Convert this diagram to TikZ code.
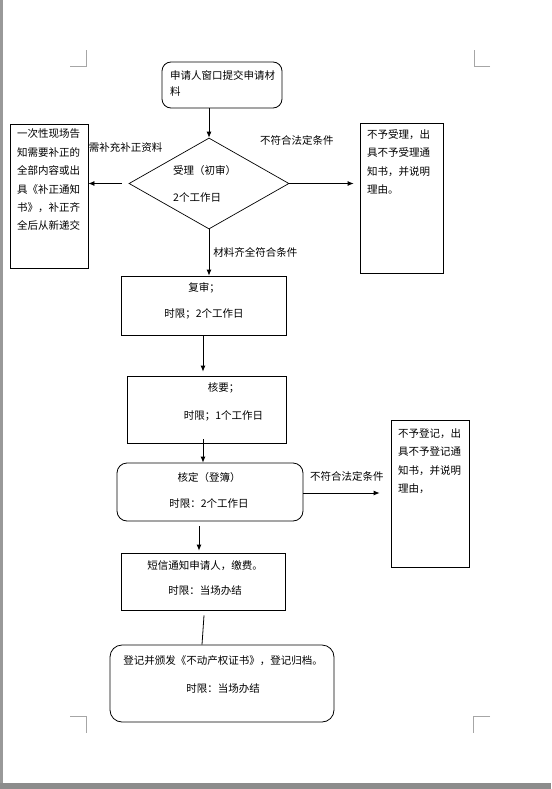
\documentclass[tikz,border=0pt]{standalone}
\usepackage{fontspec}
\setmainfont{Noto Sans CJK SC}
\usetikzlibrary{calc}
\usetikzlibrary{fit}
\usetikzlibrary{shapes.geometric}
\usetikzlibrary{arrows.meta}
\tikzstyle{flowbox}=[draw, line width=0.8pt, inner sep=0pt]
\tikzstyle{roundbox}=[flowbox, rounded corners=9pt]
\tikzstyle{txt}=[inner sep=0pt, anchor=west, align=left]
\tikzstyle{ctxt}=[inner sep=0pt, align=center]
\tikzstyle{arr}=[line width=0.8pt, -{Latex[length=6pt,width=5pt]}]
\tikzstyle{cropmark}=[draw=black!35, line width=0.8pt]
\def\flowbox[#1](#2)(#3)#4% Syntax: [style] (top left) (bottom right) name
    { \node[#1, fit={(#2) (#3)}] (#4) {}; }
\newcommand{\cjk}[1]{\fontsize{10.5}{#1}\selectfont}
\begin{document}
\begin{tikzpicture}[x=1pt, y=-1pt, font=\cjk{13}]
	\useasboundingbox (0,0) rectangle (551,789);
	% page and its shadow
	\fill[white] (0,0) rectangle (551,789);
	\fill[black!40] (0,0) rectangle (3,789);
	\fill[black!45] (0,783) rectangle (551,789);
	\draw[cropmark] (70,66) -- (86,66) -- (86,50);
	\draw[cropmark] (490,66) -- (474,66) -- (474,50);
	\draw[cropmark] (70,716) -- (86,716) -- (86,733);
	\draw[cropmark] (490,716) -- (473,716) -- (473,733);
	% boxes
	\flowbox[roundbox](162,62)(282,108){shenqing}
	\node[draw, line width=0.7pt, diamond, inner sep=0pt, minimum width=160pt, minimum height=91pt] (shouli) at (209,183.5) {};
	\flowbox[flowbox](10,124)(88,268){buzheng}
	\flowbox[flowbox](360,123)(443,273){buyu}
	\flowbox[flowbox](121,276)(286,335){fushen}
	\flowbox[flowbox](127,376)(286,443){heyao}
	\flowbox[roundbox, rounded corners=10pt](117,463)(303,521){heding}
	\flowbox[flowbox](391,420)(469,567){budengji}
	\flowbox[flowbox](121,553)(285,610){duanxin}
	\flowbox[roundbox, rounded corners=12pt](110,645)(334,722){dengji}
	% texts
	\node[txt, font=\cjk{16}] (shenqingT) at (170,83) {申请人窗口提交申请材\\料};
	\node[txt, font=\cjk{27}] (shouliT) at (173,183.5) {受理（初审）\\2个工作日};
	\node[txt, font=\cjk{18.4}] (buzhengT) at (17,180) {一次性现场告\\知需要补正的\\全部内容或出\\具《补正通知\\书》，补正齐\\全后从新递交};
	\node[txt, font=\cjk{18.6}] (buyuT) at (367,162) {不予受理，出\\具不予受理通\\知书，并说明\\理由。};
	\node[ctxt, font=\cjk{26}] (fushenT) at (204,301) {复审；\\时限；2个工作日};
	\node[ctxt, font=\cjk{28}] (heyaoT) at (223.5,402) {核要；\\时限；1个工作日};
	\node[ctxt, font=\cjk{26}] (hedingT) at (209,490) {核定（登簿）\\时限：2个工作日};
	\node[txt, font=\cjk{18.5}] (budengjiT) at (398,461) {不予登记，出\\具不予登记通\\知书，并说明\\理由，};
	\node[ctxt, font=\cjk{25}] (duanxinT) at (205,578.5) {短信通知申请人，缴费。\\时限：当场办结};
	\node[ctxt, font=\cjk{28}] (dengjiT) at (223,674) {登记并颁发《不动产权证书》，登记归档。\\时限：当场办结};
	% connectors
	\draw[arr] (shouli.north |- shenqing.south) -- (shouli.north);
	\draw[arr] ($(shouli.west)+(-7,0)$) -- (buzheng.east |- shouli.west) node[txt, pos=1, above=36pt, anchor=west] (lbuzheng) {需补充补正资料};
	\draw[arr] (shouli.east) -- ($(buyu.west |- shouli.east)+(-6,0)$);
	\node[txt] (lbuyu) at (260,140) {不符合法定条件};
	\draw[arr] (shouli.south) -- (shouli.south |- fushen.north) node[txt, midway, right=4pt] (lqiquan) {材料齐全符合条件};
	\draw[arr] (fushen.south -| 203,0) -- ($(heyao.north -| 203,0)+(0,-4)$);
	\draw[arr] ($(heyao.south -| 203,0)+(0,-4)$) -- (heding.north -| 203,0);
	\draw[arr] (heding.east |- 0,493) -- ($(budengji.west |- 0,493)+(-11,0)$);
	\node[txt] (lbudengji) at (310,476) {不符合法定条件};
	\draw[arr] ($(heding.south -| 199,0)+(0,5)$) -- ($(duanxin.north -| 199,0)+(0,-2)$);
	\draw[line width=0.8pt] ($(duanxin.south -| 204,0)+(0,5)$) -- (dengji.north -| 202,0);
\end{tikzpicture}
\end{document}
